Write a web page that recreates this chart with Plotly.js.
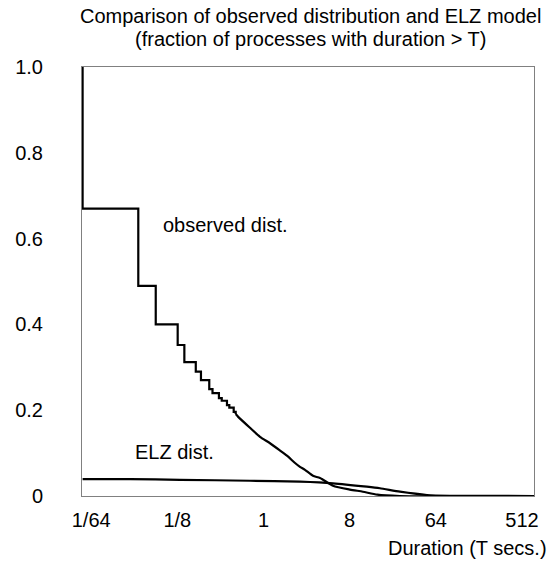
<!DOCTYPE html>
<html>
<head>
<meta charset="utf-8">
<script src="https://cdn.plot.ly/plotly-3.0.1.min.js"></script>
<style>html,body{margin:0;padding:0;background:#fff;}#chart{width:555px;height:563px;}</style>
</head>
<body>
<div id="chart"></div>
<script>
// Observed distribution: staircase part (step positions in seconds, fraction with duration > T)
var obsStepT = [0.0127, 0.0127, 0.0487, 0.0742, 0.126, 0.148, 0.195, 0.221, 0.270, 0.292, 0.341, 0.365, 0.414, 0.438, 0.487, 0.511];
var obsStepF = [1.0, 0.67, 0.490, 0.400, 0.352, 0.312, 0.290, 0.270, 0.249, 0.240, 0.228, 0.222, 0.212, 0.206, 0.196, 0.191];
// Observed distribution: smooth tail
var obsTailT = [0.511, 0.540, 0.721, 0.918, 1.17, 1.49, 1.76, 2.14, 2.41, 2.72, 3.30, 3.91, 5.35, 8.07, 11.0, 15.6, 26.9, 684];
var obsTailF = [0.191, 0.185, 0.159, 0.138, 0.123, 0.106, 0.094, 0.077, 0.068, 0.061, 0.047, 0.042, 0.024, 0.015, 0.010, 0.003, 0.0, 0.0];
// ELZ model
var elzT = [0.0127, 0.04, 0.133, 0.721, 2.41, 5.35, 12.1, 16.6, 26.9, 51.7, 90, 684];
var elzF = [0.0394, 0.0392, 0.0378, 0.0356, 0.0333, 0.0296, 0.0217, 0.018, 0.010, 0.0023, 0.0005, 0.0];
// Axis ticks
var xTickVals = [1/64, 1/8, 1, 8, 64, 512];
var xTickText = ['1/64', '1/8', '1', '8', '64', '512'];
var yTickVals = [0, 0.2, 0.4, 0.6, 0.8, 1.0];
var yTickText = ['0', '0.2', '0.4', '0.6', '0.8', '1.0'];
var titleLines = ['Comparison of observed distribution and ELZ model', '(fraction of processes with duration > T)'];

var FONT = 'Arial, "Liberation Sans", sans-serif';
var FS = 20;
var lineStyle = {color: '#000000', width: 2.2};

var traces = [
  {x: obsStepT, y: obsStepF, type: 'scatter', mode: 'lines', line: Object.assign({shape: 'hv'}, lineStyle), hoverinfo: 'skip'},
  {x: obsTailT, y: obsTailF, type: 'scatter', mode: 'lines', line: Object.assign({shape: 'spline', smoothing: 0.6}, lineStyle), hoverinfo: 'skip'},
  {x: elzT, y: elzF, type: 'scatter', mode: 'lines', line: {color: '#000000', width: 2.2, shape: 'spline', smoothing: 0.6}, hoverinfo: 'skip'}
];

function txt(text, px, py, anchor) {
  return {text: text, xref: 'paper', yref: 'paper', x: (px - 82) / 452, y: (496 - py) / 429,
    xanchor: anchor, yanchor: 'middle', showarrow: false,
    font: {family: FONT, size: FS, color: '#000000'}};
}

var layout = {
  width: 555, height: 563,
  margin: {l: 82, r: 21, t: 67, b: 67, pad: 0},
  paper_bgcolor: '#ffffff', plot_bgcolor: '#ffffff',
  showlegend: false,
  font: {family: FONT, size: FS, color: '#000000'},
  xaxis: {
    type: 'log',
    range: [Math.log10(Math.pow(2, -6.32)), Math.log10(Math.pow(2, 9.418))],
    tickvals: xTickVals, ticktext: xTickText,
    showgrid: false, zeroline: false,
    showline: true, linecolor: '#808080', linewidth: 1, mirror: true,
    ticks: '', ticklabelstandoff: 6,
    tickfont: {family: FONT, size: FS, color: '#000000'}
  },
  yaxis: {
    range: [0, 1],
    tickvals: yTickVals, ticktext: yTickText,
    showgrid: false, zeroline: false,
    showline: true, linecolor: '#808080', linewidth: 1, mirror: true,
    ticks: '', ticklabelstandoff: 34,
    tickfont: {family: FONT, size: FS, color: '#000000'}
  },
  annotations: [
    txt(titleLines[0], 310, 16, 'center'),
    txt(titleLines[1], 310, 39, 'center'),
    txt('observed dist.', 161, 225, 'left'),
    txt('ELZ dist.', 133, 452, 'left'),
    txt('Duration (T secs.)', 549, 548, 'right')
  ]
};

Plotly.newPlot('chart', traces, layout, {displayModeBar: false, staticPlot: true});
</script>
</body>
</html>
